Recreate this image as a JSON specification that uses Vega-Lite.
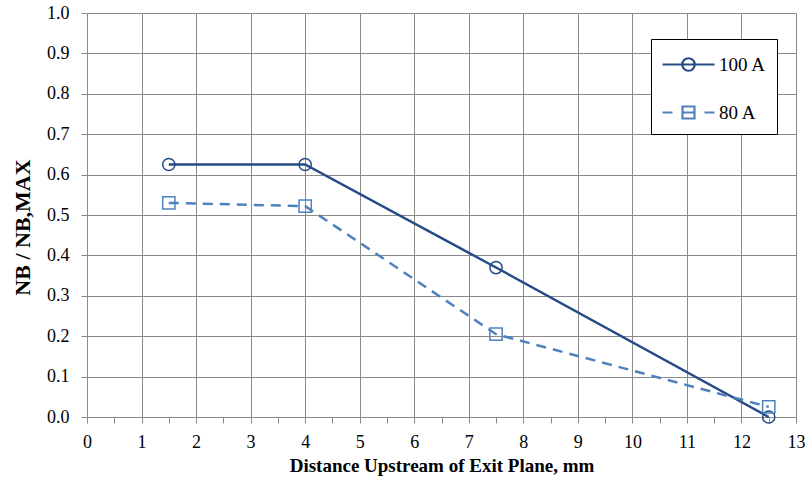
{
  "$schema": "https://vega.github.io/schema/vega-lite/v6.json",
  "width": 709,
  "height": 404,
  "autosize": {"type": "none"},
  "padding": {"left": 87, "top": 13, "right": 13, "bottom": 67},
  "background": "white",
  "config": {
    "view": {"stroke": null},
    "font": "Liberation Serif",
    "axis": {
      "labelFont": "Liberation Serif",
      "titleFont": "Liberation Serif",
      "labelColor": "black",
      "titleColor": "black",
      "gridColor": "#8a8a8a",
      "gridWidth": 1,
      "domainColor": "#8a8a8a",
      "tickColor": "#8a8a8a",
      "tickSize": 6,
      "labelFontSize": 18
    },
    "legend": {"labelFont": "Liberation Serif"}
  },
  "data": {
    "values": [
      {"x": 1.5, "y": 0.625, "series": "100 A"},
      {"x": 4.0, "y": 0.625, "series": "100 A"},
      {"x": 7.5, "y": 0.37, "series": "100 A"},
      {"x": 12.5, "y": 0.0, "series": "100 A"},
      {"x": 1.5, "y": 0.53, "series": "80 A"},
      {"x": 4.0, "y": 0.522, "series": "80 A"},
      {"x": 7.5, "y": 0.205, "series": "80 A"},
      {"x": 12.5, "y": 0.025, "series": "80 A"}
    ]
  },
  "encoding": {
    "x": {
      "field": "x",
      "type": "quantitative",
      "scale": {"domain": [0, 13], "nice": false, "zero": false},
      "axis": {
        "values": [0, 0.5, 1, 1.5, 2, 2.5, 3, 3.5, 4, 4.5, 5, 5.5, 6, 6.5, 7, 7.5, 8, 8.5, 9, 9.5, 10, 10.5, 11, 11.5, 12, 12.5, 13],
        "labelExpr": "datum.value % 1 === 0 ? format(datum.value, 'd') : ''",
        "labelFont": "Liberation Serif",
        "gridOpacity": {"condition": {"test": "datum.value % 1 === 0", "value": 1}, "value": 0},
        "labelPadding": 10,
        "labelFlush": false,
        "labelOverlap": false,
        "title": "Distance Upstream  of Exit Plane, mm",
        "titleFontSize": 19,
        "titleFontWeight": "bold",
        "titlePadding": 5
      }
    },
    "y": {
      "field": "y",
      "type": "quantitative",
      "scale": {"domain": [0, 1], "nice": false},
      "axis": {
        "values": [0, 0.1, 0.2, 0.3, 0.4, 0.5, 0.6, 0.7, 0.8, 0.9, 1.0],
        "format": ".1f",
        "labelFont": "Liberation Serif",
        "labelPadding": 12,
        "labelFlush": false,
        "title": "NB / NB,MAX",
        "titleFontSize": 22,
        "titleFontWeight": "bold",
        "titlePadding": 12,
        "titleY": 214
      }
    },
    "color": {
      "field": "series",
      "type": "nominal",
      "scale": {"domain": ["100 A", "80 A"], "range": ["#244B85", "#4F81BD"]},
      "legend": {
        "orient": "none",
        "legendX": 564,
        "legendY": 26,
        "title": null,
        "padding": 11,
        "strokeColor": "black",
        "fillColor": "white",
        "cornerRadius": 0,
        "symbolSize": 676,
        "symbolStrokeWidth": 2.2,
        "symbolOffset": 12,
        "labelOffset": 16,
        "labelFontSize": 19,
        "labelColor": "black",
        "rowPadding": 22,
        "encode": {
          "symbols": {
            "update": {
              "shape": {"signal": "datum.value === '100 A' ? 'M-2,0H2M0.48,0A0.48,0.48 0 1,1 -0.48,0A0.48,0.48 0 1,1 0.48,0' : 'M-2,0H-1.23M1.23,0H2M-0.46,-0.46H0.46V0.46H-0.46ZM-0.46,0H0.46'"},
              "fill": {"value": "transparent"}
            }
          }
        }
      }
    }
  },
  "layer": [
    {
      "transform": [{"filter": "datum.series === '100 A'"}],
      "mark": {"type": "line", "strokeWidth": 2.5}
    },
    {
      "transform": [{"filter": "datum.series === '80 A'"}],
      "mark": {"type": "line", "strokeWidth": 2.5, "strokeDash": [10, 7]}
    },
    {
      "transform": [{"filter": "datum.series === '100 A'"}],
      "mark": {"type": "point", "shape": "circle", "filled": false, "strokeWidth": 1.5, "opacity": 1, "size": 150}
    },
    {
      "transform": [{"filter": "datum.series === '80 A'"}],
      "mark": {"type": "point", "shape": "square", "filled": false, "strokeWidth": 1.5, "opacity": 1, "size": 150}
    }
  ]
}
